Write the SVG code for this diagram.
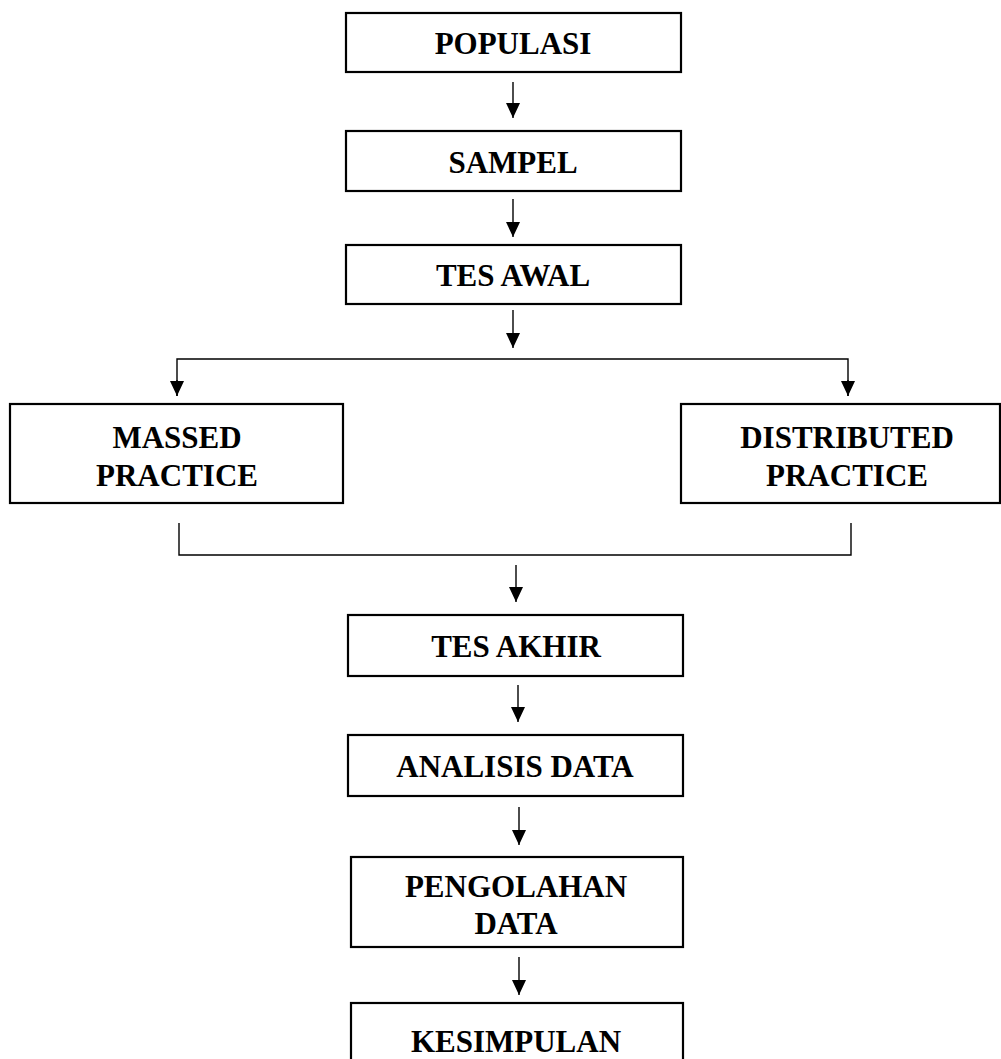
<svg xmlns="http://www.w3.org/2000/svg" width="1001" height="1059" viewBox="0 0 1001 1059">
<style>
.box{fill:#fff;stroke:#000;stroke-width:2.2}
.t{font-family:"Liberation Serif","Times New Roman",serif;font-weight:bold;font-size:31px;fill:#000;text-anchor:middle}
.c{fill:none;stroke:#000;stroke-width:1.4}
</style>
<defs>
<marker id="ah" markerUnits="userSpaceOnUse" markerWidth="16" markerHeight="15" refX="15" refY="7" orient="auto">
<path d="M0,0 L15,7 L0,14 z" fill="#000"/>
</marker>
</defs>
<rect width="1001" height="1059" fill="#fff"/>
<g id="connectors">
<line class="c" x1="513" y1="82" x2="513" y2="118" marker-end="url(#ah)"/>
<line class="c" x1="513" y1="199" x2="513" y2="237" marker-end="url(#ah)"/>
<line class="c" x1="513" y1="310" x2="513" y2="348" marker-end="url(#ah)"/>
<polyline class="c" points="177,396 177,359 848,359 848,396"/>
<line class="c" x1="177" y1="380" x2="177" y2="396" marker-end="url(#ah)"/>
<line class="c" x1="848" y1="380" x2="848" y2="396" marker-end="url(#ah)"/>
<polyline class="c" points="179,523 179,555 851,555 851,523"/>
<line class="c" x1="516" y1="565" x2="516" y2="602" marker-end="url(#ah)"/>
<line class="c" x1="518" y1="685" x2="518" y2="722" marker-end="url(#ah)"/>
<line class="c" x1="519" y1="807" x2="519" y2="845" marker-end="url(#ah)"/>
<line class="c" x1="519" y1="957" x2="519" y2="995" marker-end="url(#ah)"/>
</g>
<g id="populasi"><rect class="box" x="346" y="13" width="335" height="59"/><text class="t" x="513" y="54">POPULASI</text></g>
<g id="sampel"><rect class="box" x="346" y="131" width="335" height="60"/><text class="t" x="513" y="173">SAMPEL</text></g>
<g id="tes-awal"><rect class="box" x="346" y="245" width="335" height="59"/><text class="t" x="513" y="286">TES AWAL</text></g>
<g id="massed"><rect class="box" x="10" y="404" width="333" height="99"/><text class="t" x="177" y="448">MASSED</text><text class="t" x="177" y="486">PRACTICE</text></g>
<g id="distributed"><rect class="box" x="681" y="404" width="319" height="99"/><text class="t" x="847" y="448">DISTRIBUTED</text><text class="t" x="847" y="486">PRACTICE</text></g>
<g id="tes-akhir"><rect class="box" x="348" y="615" width="335" height="61"/><text class="t" x="516" y="657">TES AKHIR</text></g>
<g id="analisis"><rect class="box" x="348" y="735" width="335" height="61"/><text class="t" x="515" y="777">ANALISIS DATA</text></g>
<g id="pengolahan"><rect class="box" x="351" y="857" width="332" height="90"/><text class="t" x="516" y="897">PENGOLAHAN</text><text class="t" x="516" y="934">DATA</text></g>
<g id="kesimpulan"><rect class="box" x="351" y="1003" width="332" height="70"/><text class="t" x="516" y="1052">KESIMPULAN</text></g>
</svg>
